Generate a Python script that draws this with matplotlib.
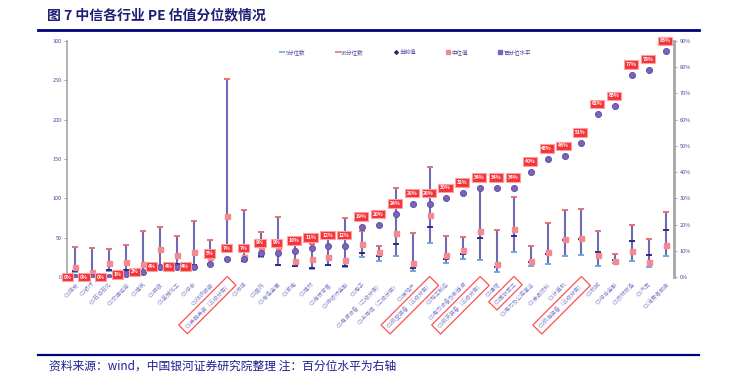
import matplotlib.pyplot as plt
from matplotlib.lines import Line2D

plt.rcParams['font.family'] = ['Noto Sans CJK SC', 'DejaVu Sans']

# industries, left to right
cats = ["CS煤炭", "CS银行", "CS石油石化", "CS交通运输", "CS建筑", "CS钢铁", "CS基础化工",
        "CS综合", "CS纺织服装", "CS兵器兵装（三级分类）", "CS传媒", "CS医药", "CS有色金属",
        "CS家电", "CS建材", "CS商贸零售", "CS非银行金融", "CS电子", "CS电源设备（二级分类）",
        "CS半导体（二级分类）", "CS房地产", "CS航空装备（三级分类）", "CS轻工制造",
        "CS电力设备及新能源", "CS航天装备（三级分类）", "CS通信", "CS国防军工",
        "CS电力及公用事业", "CS食品饮料", "CS计算机", "CS航海装备（三级分类）", "CS机械",
        "CS综合金融", "CS农林牧渔", "CS汽车", "CS消费者服务"]
boxed = ["CS兵器兵装（三级分类）", "CS航空装备（三级分类）", "CS航天装备（三级分类）",
         "CS国防军工", "CS航海装备（三级分类）"]

p95 = [38.5, 36.8, 36, 41, 57.9, 63, 51.6, 70.6, 46.5, 252, 85.4, 57, 75.7, 40.6, 41.8, 55,
       75.3, 58.4, 39.8, 113.4, 56.3, 140, 52, 51.2, 112, 59.6, 101.9, 39.8, 69, 85.2, 86, 58,
       29.6, 66.4, 48.6, 82.5]
median = [12.9, 6.5, 17.5, 19, 16.5, 35.5, 27.9, 31.3, 25, 77.5, 25.4, 36.8, 38, 20.3, 23.2,
          25.4, 21.2, 41.9, 31.3, 56.3, 17.3, 78.3, 27.9, 33.8, 58.4, 16.9, 60.5, 20.3, 31.3,
          48.2, 49.9, 27.9, 20.7, 33.4, 18.6, 40.2]
current = [7.4, 3.5, 8.7, 8.5, 5, 12.7, 16.5, 15.6, 16.5, 35.9, 20.7, 27, 15.6, 14.4, 11.4,
           15.6, 14.4, 30.9, 27.1, 41.9, 11, 63.9, 23.3, 29.6, 49.5, 13.1, 52, 19.2, 29.8, 47,
           48.5, 31.7, 21.5, 46.1, 27.5, 59.2]
p5 = [6, 3, 8, 7.5, 4, 11.4, 12.7, 13.5, 15.5, 32.5, 19.9, 25, 14.8, 13.5, 10.6, 14.8, 13.1,
      25, 20.3, 27.1, 7.6, 42.7, 17.3, 22.8, 21.2, 6.3, 31.7, 14, 16.5, 26.6, 27.5, 14, 17.3,
      20.3, 12.7, 26.2]
pct = [0, 0, 0, 1, 2, 4, 4, 4, 5, 7, 7, 9, 9, 10, 11, 12, 12, 19, 20, 24, 28, 28, 30, 32, 34,
       34, 34, 40, 45, 46, 51, 62, 65, 77, 79, 86]

navy = '#4a44a6'
txt = '#4a4a9e'
c95 = '#ef6f6f'
c5 = '#6fa8dc'
cmed = '#f48a8f'
cpct = '#7b62bb'

fig = plt.figure(figsize=(7.35, 3.88), dpi=100)
ax = fig.add_axes([0.0912, 0.286, 0.826, 0.609])
ax2 = ax.twinx()

x = list(range(len(cats)))
ax.vlines(x, p5, p95, color=navy, lw=1.5, alpha=0.8, zorder=2)
ax.plot(x, p95, ls='none', marker='_', ms=4, mew=1.4, color=c95, zorder=3)
ax.plot(x, p5, ls='none', marker='_', ms=4, mew=1.4, color=c5, zorder=3)
ax.plot(x, current, ls='none', marker='_', ms=3.8, mew=1.3, color='#25207f', zorder=4)
ax.plot(x, median, ls='none', marker='s', ms=3.6, color=cmed, zorder=5)
ax2.plot(x, pct, ls='none', marker='o', ms=4.4, mfc=cpct, mec='#5a48a0', mew=0.6, zorder=5)

for i, p in enumerate(pct):
    off = (-6, 0) if p < 5 else (-0.7, 7.5)
    ax2.annotate(f"{p}%", (i, p), xytext=off, textcoords='offset points',
                 ha='center', va='center', fontsize=3.6, color='white', fontweight='bold',
                 bbox=dict(boxstyle='square,pad=0.35', fc='#f5333b', ec='#ffa0a0', lw=0.8),
                 zorder=6)

ax.set_xlim(-0.5, len(cats) - 0.5)
ax.set_ylim(0, 300)
ax.set_yticks(range(0, 301, 50))
ax2.set_ylim(0, 90)
ax2.set_yticks(range(0, 91, 10))
ax2.set_yticklabels([f"{v}%" for v in range(0, 91, 10)])

for a in (ax, ax2):
    a.spines['top'].set_visible(False)
    a.spines['bottom'].set_visible(False)
    a.tick_params(axis='y', labelsize=4, colors='#909090', labelcolor=txt, length=2, width=0.6, pad=2)
ax2.spines['left'].set_visible(False)
ax.spines['right'].set_visible(False)
ax.spines['left'].set_color('#a6a6a6')
ax.spines['left'].set_linewidth(1.2)
ax2.spines['right'].set_color('#a6a6a6')
ax2.spines['right'].set_linewidth(2)

ax.set_xticks(x)
ax.set_xticklabels(cats, rotation=45, ha='right', rotation_mode='anchor',
                   fontsize=4, color='#8282c8')
ax.tick_params(axis='x', length=0, pad=3)
for lab in ax.get_xticklabels():
    if lab.get_text() in boxed:
        lab.set_bbox(dict(boxstyle='square,pad=0.6', fc='none', ec='#ff5050', lw=0.9))

handles = [
    Line2D([], [], ls='none', marker='_', ms=4, mew=1.2, color=c5),
    Line2D([], [], ls='none', marker='_', ms=4, mew=1.2, color=c95),
    Line2D([], [], ls='none', marker='D', ms=1.8, color='#25207f'),
    Line2D([], [], ls='none', marker='s', ms=2.6, color=cmed),
    Line2D([], [], ls='none', marker='s', ms=2.6, color=cpct),
]
fig.legend(handles, ["5分位数", "95分位数", "当前值", "中位值", "百分位水平"],
           loc='center', bbox_to_anchor=(0.552, 0.866), ncol=5, frameon=False,
           fontsize=4, labelcolor=txt, handlelength=0.6, handletextpad=0.3,
           columnspacing=5.5)

fig.text(0.064, 0.961, "图 7 中信各行业 PE 估值分位数情况", fontsize=10, fontweight='bold',
         color='#1f1f75', va='center')
fig.add_artist(Line2D([0.052, 0.951], [0.923, 0.923], color='#00007f', lw=2))
fig.add_artist(Line2D([0.052, 0.951], [0.086, 0.086], color='#00007f', lw=1.6))
fig.text(0.066, 0.056, "资料来源：wind，中国银河证券研究院整理 注：百分位水平为右轴",
         fontsize=8.5, color='#1f1f8f', va='center')

fig.savefig("out.png", dpi=100)
